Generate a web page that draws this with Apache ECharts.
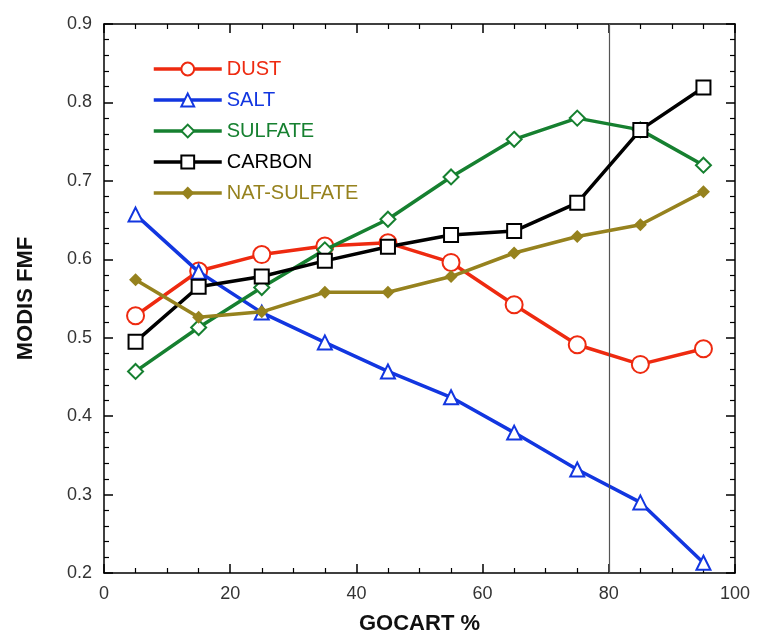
<!DOCTYPE html>
<html><head><meta charset="utf-8">
<script src="https://cdn.jsdelivr.net/npm/echarts@6/dist/echarts.min.js"></script>
<style>html,body{margin:0;padding:0;background:#fff}#c{width:758px;height:634px}</style>
</head><body><div id="c"></div>
<script>
const xValues = [5, 15, 25, 35, 45, 55, 65, 75, 85, 95];
const dust = [0.528, 0.585, 0.606, 0.617, 0.621, 0.596, 0.542, 0.491, 0.466, 0.486];
const salt = [0.657, 0.584, 0.532, 0.494, 0.457, 0.424, 0.379, 0.332, 0.290, 0.213];
const sulfate = [0.457, 0.513, 0.564, 0.612, 0.651, 0.705, 0.753, 0.780, 0.765, 0.720];
const carbon = [0.495, 0.565, 0.578, 0.598, 0.616, 0.631, 0.636, 0.672, 0.765, 0.819];
const natSulfate = [0.574, 0.526, 0.533, 0.558, 0.558, 0.578, 0.608, 0.629, 0.644, 0.686];
const seriesNames = ['DUST', 'SALT', 'SULFATE', 'CARBON', 'NAT-SULFATE'];
const seriesColors = ['#ee2a10', '#1236e0', '#168030', '#000000', '#96821e'];
const seriesSymbols = ['emptyCircle', 'emptyTriangle', 'emptyDiamond', 'emptyRect', 'diamond'];
const seriesSizes = [17, 14, 15, 14, 13];
const seriesData = [dust, salt, sulfate, carbon, natSulfate];
const refLineX = 80;

const font = 'Liberation Sans, Arial, sans-serif';
const chart = echarts.init(document.getElementById('c'));
const series = seriesNames.map((n, i) => ({
  name: n, type: 'line',
  data: xValues.map((x, j) => [x, seriesData[i][j]]),
  symbol: seriesSymbols[i], symbolSize: seriesSizes[i],
  itemStyle: { color: seriesColors[i], borderWidth: 1.5 },
  lineStyle: { color: seriesColors[i], width: 3.5 },
  z: 3 + i
}));
series[0].markLine = {
  silent: true, symbol: 'none', label: { show: false },
  lineStyle: { color: '#555', width: 1.2, type: 'solid' },
  data: [{ xAxis: refLineX }]
};
const axisCommon = {
  axisLine: { show: true, onZero: false, lineStyle: { color: '#000', width: 1.5 } },
  axisTick: { show: true, inside: true, length: 9, lineStyle: { color: '#000', width: 1.5 } },
  minorTick: { show: true, length: 5, lineStyle: { color: '#000', width: 1.2 } },
  splitLine: { show: false }
};
chart.setOption({
  backgroundColor: '#fff',
  animation: false,
  grid: { left: 104, right: 23, top: 24, bottom: 61, containLabel: false, outerBoundsMode: 'none' },
  legend: {
    orient: 'vertical', left: 147, top: 54,
    itemWidth: 68, itemHeight: 16, itemGap: 11,
    lineStyle: { width: 3.5 },
    data: seriesNames.map((n, i) => ({ name: n, textStyle: { color: seriesColors[i] } })),
    textStyle: { fontFamily: font, fontSize: 20, padding: [0, 0, 0, 0] }
  },
  xAxis: [
    Object.assign({ type: 'value', min: 0, max: 100, interval: 20, position: 'bottom',
      minorTick: Object.assign({}, axisCommon.minorTick, { splitNumber: 4 }),
      name: 'GOCART %', nameLocation: 'middle', nameGap: 40,
      nameTextStyle: { fontFamily: font, fontSize: 22, fontWeight: 'bold', color: '#111' },
      axisLabel: { fontFamily: font, fontSize: 18, color: '#333', margin: 12 } },
      { axisLine: axisCommon.axisLine, axisTick: axisCommon.axisTick, splitLine: axisCommon.splitLine }),
    Object.assign({ type: 'value', min: 0, max: 100, interval: 20, position: 'top',
      minorTick: Object.assign({}, axisCommon.minorTick, { splitNumber: 4 }),
      axisLabel: { show: false } },
      { axisLine: axisCommon.axisLine, axisTick: axisCommon.axisTick, splitLine: axisCommon.splitLine })
  ],
  yAxis: [
    Object.assign({ type: 'value', min: 0.2, max: 0.9, interval: 0.1, position: 'left',
      minorTick: Object.assign({}, axisCommon.minorTick, { splitNumber: 5 }),
      name: 'MODIS FMF', nameLocation: 'middle', nameGap: 67, nameRotate: 90,
      nameTextStyle: { fontFamily: font, fontSize: 22, fontWeight: 'bold', color: '#111' },
      axisLabel: { fontFamily: font, fontSize: 18, color: '#333', margin: 12,
        formatter: v => v.toFixed(1) } },
      { axisLine: axisCommon.axisLine, axisTick: axisCommon.axisTick, splitLine: axisCommon.splitLine }),
    Object.assign({ type: 'value', min: 0.2, max: 0.9, interval: 0.1, position: 'right',
      minorTick: Object.assign({}, axisCommon.minorTick, { splitNumber: 5 }),
      axisLabel: { show: false } },
      { axisLine: axisCommon.axisLine, axisTick: axisCommon.axisTick, splitLine: axisCommon.splitLine })
  ],
  series: series
});
</script></body></html>
